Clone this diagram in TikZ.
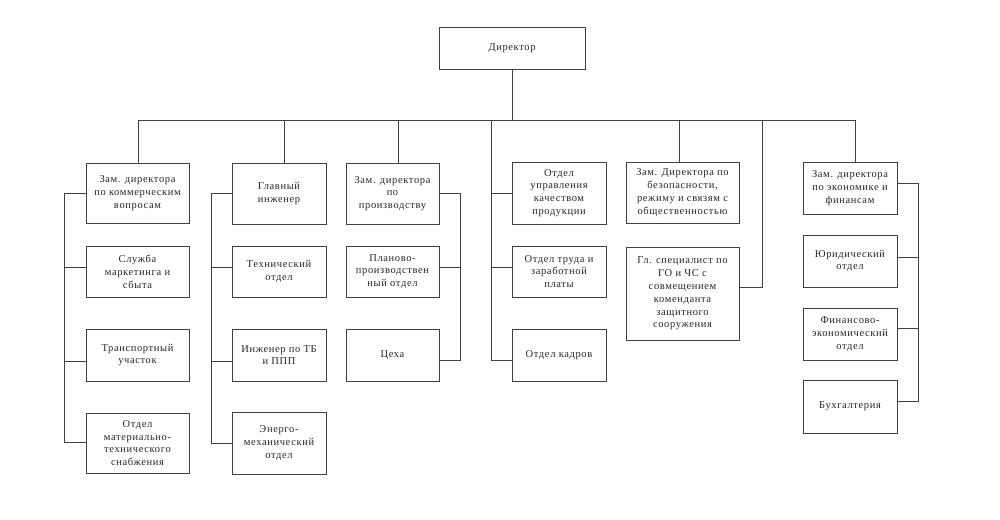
\documentclass[tikz,border=0pt]{standalone}
\usepackage{fontspec}
\setmainfont{Liberation Serif}[LetterSpace=6]
\begin{document}
\begin{tikzpicture}[x=1pt,y=-1pt,
  box/.style={draw=black!75, line width=0.9pt, align=center, inner sep=1pt,
    font=\fontsize{10.5}{12.8}\selectfont, text=black!85},
  ln/.style={draw=black!75, line width=0.9pt}]
\useasboundingbox (0,0) rectangle (1000,519);
% Director
\node[box, minimum width=146, minimum height=42] (dir) at (512,48) {Директор};
% Column 1
\node[box, minimum width=103, minimum height=60] (c1a) at (137.5,193) {Зам. директора\\по коммерческим\\вопросам};
\node[box, minimum width=103, minimum height=51] (c1b) at (137.5,271.5) {Служба\\маркетинга и\\сбыта};
\node[box, minimum width=103, minimum height=52] (c1c) at (137.5,355) {Транспортный\\участок};
\node[box, minimum width=103, minimum height=60] (c1d) at (137.5,443) {Отдел\\материально-\\технического\\снабжения};
% Column 2
\node[box, minimum width=94, minimum height=61] (c2a) at (279,193.5) {Главный\\инженер};
\node[box, minimum width=94, minimum height=51] (c2b) at (279,271.5) {Технический\\отдел};
\node[box, minimum width=94, minimum height=52] (c2c) at (279,355) {Инженер по ТБ\\и ППП};
\node[box, minimum width=94, minimum height=62] (c2d) at (279,443) {Энерго-\\механический\\отдел};
% Column 3
\node[box, minimum width=93, minimum height=61] (c3a) at (392.5,193.5) {Зам. директора\\по\\производству};
\node[box, minimum width=93, minimum height=51] (c3b) at (392.5,271.5) {Планово-\\производствен\\ный отдел};
\node[box, minimum width=93, minimum height=52] (c3c) at (392.5,355) {Цеха};
% Column 4
\node[box, minimum width=94, minimum height=62] (c4a) at (559,193) {Отдел\\управления\\качеством\\продукции};
\node[box, minimum width=94, minimum height=51] (c4b) at (559,271.5) {Отдел труда и\\заработной\\платы};
\node[box, minimum width=94, minimum height=52] (c4c) at (559,355) {Отдел кадров};
% Column 5
\node[box, minimum width=113, minimum height=61] (c5a) at (682.5,192.5) {Зам. Директора по\\безопасности,\\режиму и связям с\\общественностью};
\node[box, minimum width=113, minimum height=93] (c5b) at (682.5,293.5) {Гл. специалист по\\ГО и ЧС с\\совмещением\\коменданта\\защитного\\сооружения};
% Column 6
\node[box, minimum width=94, minimum height=52] (c6a) at (850,188) {Зам. директора\\по экономике и\\финансам};
\node[box, minimum width=94, minimum height=52] (c6b) at (850,261) {Юридический\\отдел};
\node[box, minimum width=94, minimum height=52] (c6c) at (850,334) {Финансово-\\экономический\\отдел};
\node[box, minimum width=94, minimum height=53] (c6d) at (850,406.5) {Бухгалтерия};
% Bus
\coordinate (b1) at (138,120);
\coordinate (b2) at (284,120);
\coordinate (b3) at (398,120);
\coordinate (b4) at (491,120);
\coordinate (b5) at (679,120);
\coordinate (b5r) at (762,120);
\coordinate (b6) at (855,120);
\coordinate (bd) at (512,120);
\draw[ln] (dir.south) -- (bd);
\draw[ln] (b1) -- (b6);
\draw[ln] (b1) -- (b1 |- c1a.north);
\draw[ln] (b2) -- (b2 |- c2a.north);
\draw[ln] (b3) -- (b3 |- c3a.north);
\draw[ln] (b5) -- (b5 |- c5a.north);
\draw[ln] (b6) -- (b6 |- c6a.north);
% Column 1 spine (left)
\draw[ln] (c1a.west |- 0,193) -| (64,442) -- (c1d.west |- 0,442);
\draw[ln] (64,267) -- (c1b.west |- 0,267);
\draw[ln] (64,361) -- (c1c.west |- 0,361);
% Column 2 spine (left)
\draw[ln] (c2a.west |- 0,193) -| (211,443) -- (c2d.west |- 0,443);
\draw[ln] (211,267) -- (c2b.west |- 0,267);
\draw[ln] (211,361) -- (c2c.west |- 0,361);
% Column 3 spine (right)
\draw[ln] (c3a.east |- 0,193) -| (460,360) -- (c3c.east |- 0,360);
\draw[ln] (460,267) -- (c3b.east |- 0,267);
% Column 4 spine (from bus)
\draw[ln] (b4) -- (491,360) -- (c4c.west |- 0,360);
\draw[ln] (491,193) -- (c4a.west |- 0,193);
\draw[ln] (491,267) -- (c4b.west |- 0,267);
% Column 5 right line
\draw[ln] (b5r) -- (762,287) -- (c5b.east |- 0,287);
% Column 6 spine (right)
\draw[ln] (c6a.east |- 0,183) -| (918,401) -- (c6d.east |- 0,401);
\draw[ln] (918,257) -- (c6b.east |- 0,257);
\draw[ln] (918,328) -- (c6c.east |- 0,328);
\end{tikzpicture}
\end{document}
